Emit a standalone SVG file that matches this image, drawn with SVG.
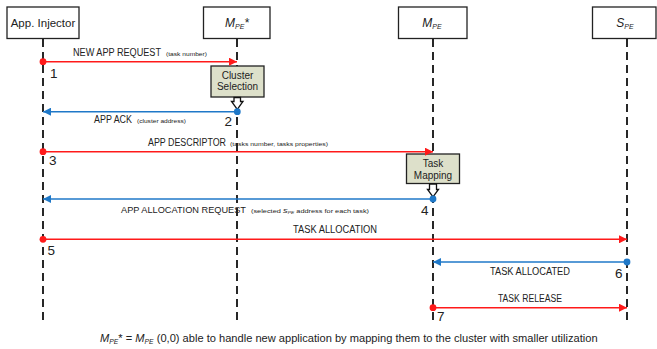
<svg xmlns="http://www.w3.org/2000/svg" width="657" height="349" viewBox="0 0 657 349">
<defs>
<style>
text{font-family:"Liberation Sans","Noto Sans",sans-serif;fill:#222}
.hdr{fill:#fff;stroke:#222;stroke-width:1.3}
.life{stroke:#111;stroke-width:1.8;stroke-dasharray:8 5;fill:none}
.proc{fill:#dde0ca;stroke:#222;stroke-width:1.3}
.barrow{fill:#fff;stroke:#111;stroke-width:1.3}
.red{stroke:#ff1a1a;stroke-width:1.5;fill:none}
.blue{stroke:#1f78c8;stroke-width:1.5;fill:none}
.lbl{font-size:10px}
.sm{font-size:6px}
.num{font-size:13.5px}
.box{font-size:10px}
</style>
<marker id="ar" viewBox="0 0 10 10" refX="10" refY="5" markerWidth="10" markerHeight="8" markerUnits="userSpaceOnUse" orient="auto"><path d="M0,0 L10,5 L0,10 z" fill="#ff1a1a"/></marker>
<marker id="ab" viewBox="0 0 10 10" refX="10" refY="5" markerWidth="10" markerHeight="8" markerUnits="userSpaceOnUse" orient="auto"><path d="M0,0 L10,5 L0,10 z" fill="#1f78c8"/></marker>
</defs>
<rect width="657" height="349" fill="#fff"/>

<g id="injector">
<rect class="hdr" x="7" y="7" width="72" height="31.5"/>
<text x="43" y="27" font-size="11.5" text-anchor="middle">App. Injector</text>
<line class="life" x1="43" y1="39" x2="43" y2="320"/>
</g>
<g id="mpe-star">
<rect class="hdr" x="203.5" y="7" width="66.5" height="31.5"/>
<text x="237" y="27" font-size="12" text-anchor="middle" font-style="italic">M<tspan font-size="7" dy="2">PE</tspan><tspan dy="-2" font-size="12">*</tspan></text>
<line class="life" x1="237" y1="39" x2="237" y2="320"/>
</g>
<g id="mpe">
<rect class="hdr" x="398.5" y="7" width="68.5" height="31.5"/>
<text x="432" y="27" font-size="12" text-anchor="middle" font-style="italic">M<tspan font-size="7" dy="2">PE</tspan></text>
<line class="life" x1="433" y1="39" x2="433" y2="320"/>
</g>
<g id="spe">
<rect class="hdr" x="592.5" y="7" width="63.5" height="31.5"/>
<text x="625" y="27" font-size="12" text-anchor="middle" font-style="italic">S<tspan font-size="7" dy="2">PE</tspan></text>
<line class="life" x1="627" y1="39" x2="627" y2="320"/>
</g>

<g id="cluster-selection">
<rect class="proc" x="211" y="66" width="53" height="31"/>
<text class="box" x="237.5" y="78.5" text-anchor="middle">Cluster</text>
<text class="box" x="237.5" y="90" text-anchor="middle">Selection</text>
<path class="barrow" d="M234,97.5 L234,101.5 L231.5,101.5 L237.3,109.5 L243,101.5 L240.5,101.5 L240.5,97.5 z"/>
</g>
<g id="task-mapping">
<rect class="proc" x="406.5" y="154" width="53" height="29.5"/>
<text class="box" x="433" y="167" text-anchor="middle">Task</text>
<text class="box" x="433" y="178.5" text-anchor="middle">Mapping</text>
<path class="barrow" d="M429.5,184 L429.5,189.5 L427.5,189.5 L433,197 L438.5,189.5 L436.5,189.5 L436.5,184 z"/>
</g>

<g id="connectors">
<line class="red" x1="43" y1="61.7" x2="237" y2="61.7" marker-end="url(#ar)"/>
<circle cx="43" cy="61.7" r="3.4" fill="#ff1a1a"/>
<line class="blue" x1="237" y1="111.7" x2="43" y2="111.7" marker-end="url(#ab)"/>
<circle cx="237.3" cy="111.7" r="3.4" fill="#1f78c8"/>
<line class="red" x1="43" y1="151.7" x2="433" y2="151.7" marker-end="url(#ar)"/>
<circle cx="43" cy="151.7" r="3.4" fill="#ff1a1a"/>
<line class="blue" x1="433" y1="199" x2="43" y2="199" marker-end="url(#ab)"/>
<circle cx="433" cy="199" r="3.4" fill="#1f78c8"/>
<line class="red" x1="43" y1="239.3" x2="627" y2="239.3" marker-end="url(#ar)"/>
<circle cx="43" cy="239.3" r="3.4" fill="#ff1a1a"/>
<line class="blue" x1="627" y1="262" x2="433" y2="262" marker-end="url(#ab)"/>
<circle cx="627" cy="262" r="3.4" fill="#1f78c8"/>
<line class="red" x1="433" y1="307.7" x2="627" y2="307.7" marker-end="url(#ar)"/>
<circle cx="433" cy="307.7" r="3.4" fill="#ff1a1a"/>
</g>

<g id="labels">
<text class="lbl" x="73" y="56" textLength="88" lengthAdjust="spacingAndGlyphs">NEW APP REQUEST</text>
<text class="sm" x="166" y="56" textLength="41" lengthAdjust="spacingAndGlyphs">(task number)</text>
<text class="num" x="50" y="78">1</text>

<text class="lbl" x="94" y="123" textLength="38" lengthAdjust="spacingAndGlyphs">APP ACK</text>
<text class="sm" x="137" y="123" textLength="49" lengthAdjust="spacingAndGlyphs">(cluster address)</text>
<text class="num" x="224.5" y="126">2</text>

<text class="lbl" x="148" y="146" textLength="78" lengthAdjust="spacingAndGlyphs">APP DESCRIPTOR</text>
<text class="sm" x="230" y="146" textLength="98" lengthAdjust="spacingAndGlyphs">(tasks number, tasks properties)</text>
<text class="num" x="49" y="165">3</text>

<text x="121" y="212.5" font-size="9.1" textLength="125" lengthAdjust="spacingAndGlyphs">APP ALLOCATION REQUEST</text>
<text class="sm" x="251" y="212.5" textLength="118" lengthAdjust="spacingAndGlyphs">(selected <tspan font-style="italic">S</tspan><tspan font-size="4" font-style="italic" dy="1">PE</tspan><tspan dy="-1"> address for each task)</tspan></text>
<text class="num" x="421" y="215">4</text>

<text class="lbl" x="293" y="233" textLength="84" lengthAdjust="spacingAndGlyphs">TASK ALLOCATION</text>
<text class="num" x="47.5" y="255">5</text>

<text class="lbl" x="490" y="275" textLength="80" lengthAdjust="spacingAndGlyphs">TASK ALLOCATED</text>
<text class="num" x="615" y="277.5">6</text>

<text class="lbl" x="498" y="301.5" textLength="64" lengthAdjust="spacingAndGlyphs">TASK RELEASE</text>
<text class="num" x="437" y="320.5">7</text>

<text x="100" y="342" font-size="11.1"><tspan font-style="italic">M</tspan><tspan font-style="italic" font-size="6.8" dy="1.5">PE</tspan><tspan dy="-1.5">* =  </tspan><tspan font-style="italic">M</tspan><tspan font-style="italic" font-size="6.8" dy="1.5">PE</tspan><tspan dy="-1.5"> (0,0) able to handle new application by mapping them to the cluster with smaller utilization</tspan></text>
</g>
</svg>
